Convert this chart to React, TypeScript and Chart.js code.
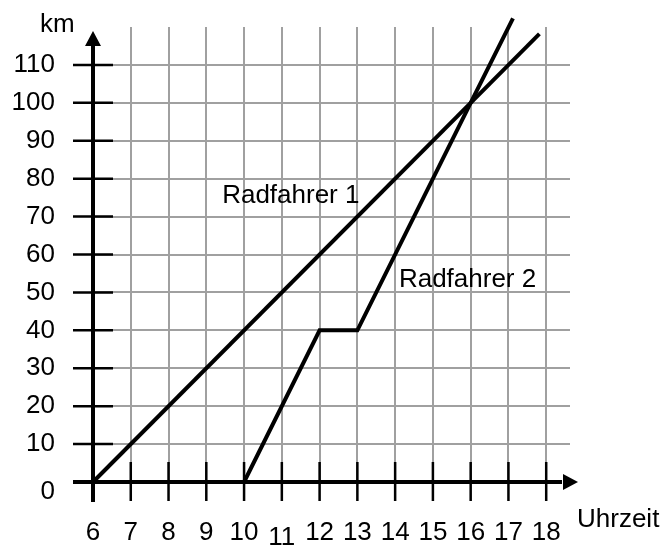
import React, { useEffect, useRef } from "react";
import { Chart, registerables } from "chart.js";

Chart.register(...registerables);

// Data
const xTicks = [6, 7, 8, 9, 10, 11, 12, 13, 14, 15, 16, 17, 18];
const yTicks = [0, 10, 20, 30, 40, 50, 60, 70, 80, 90, 100, 110];
const radfahrer1X = [6, 17.82];
const radfahrer1Y = [0, 118.2];
const radfahrer2X = [10, 12, 13, 16, 17.12];
const radfahrer2Y = [0, 40, 40, 100, 122.3];
const yTitle = "km";
const xTitle = "Uhrzeit";
const seriesNames = ["Radfahrer 1", "Radfahrer 2"];
const seriesLabelAt = [
  { x: 9.42, y: 73.5 },
  { x: 14.1, y: 51.5 },
];

const FONT = '26px "Liberation Sans", Arial, sans-serif';

const axesPlugin = {
  id: "customAxes",
  beforeDatasetsDraw(chart: any) {
    const { ctx, chartArea, scales } = chart;
    const xs = scales.x;
    const ys = scales.y;
    const x0 = xs.getPixelForValue(xTicks[0]);
    const y0 = ys.getPixelForValue(0);
    ctx.save();
    ctx.strokeStyle = "#a0a0a0";
    ctx.lineWidth = 2;
    ctx.beginPath();
    xTicks.slice(1).forEach((v) => {
      const px = Math.round(xs.getPixelForValue(v));
      ctx.moveTo(px, chartArea.top);
      ctx.lineTo(px, y0);
    });
    yTicks.slice(1).forEach((v) => {
      const py = Math.round(ys.getPixelForValue(v));
      ctx.moveTo(x0, py);
      ctx.lineTo(chartArea.right, py);
    });
    ctx.stroke();
    ctx.restore();
  },
  afterDatasetsDraw(chart: any) {
    const { ctx, chartArea, scales } = chart;
    const xs = scales.x;
    const ys = scales.y;
    const x0 = xs.getPixelForValue(xTicks[0]);
    const y0 = ys.getPixelForValue(0);
    ctx.save();
    ctx.strokeStyle = "#000";
    ctx.fillStyle = "#000";
    // tick marks
    ctx.lineWidth = 2.5;
    ctx.beginPath();
    yTicks.slice(1).forEach((v) => {
      const py = ys.getPixelForValue(v);
      ctx.moveTo(x0 - 20, py);
      ctx.lineTo(x0 + 20, py);
    });
    xTicks.slice(1).forEach((v) => {
      const px = xs.getPixelForValue(v);
      ctx.moveTo(px, y0 - 20);
      ctx.lineTo(px, y0 + 19);
    });
    ctx.stroke();
    // axes
    ctx.lineWidth = 4;
    ctx.beginPath();
    ctx.moveTo(x0, y0 + 20);
    ctx.lineTo(x0, 44);
    ctx.moveTo(x0 - 20, y0);
    ctx.lineTo(chartArea.right - 8, y0);
    ctx.stroke();
    // arrows
    ctx.beginPath();
    ctx.moveTo(x0, 31);
    ctx.lineTo(x0 - 8, 46);
    ctx.lineTo(x0 + 8, 46);
    ctx.closePath();
    ctx.fill();
    const ax = chartArea.right + 8;
    ctx.beginPath();
    ctx.moveTo(ax, y0);
    ctx.lineTo(ax - 15, y0 - 8);
    ctx.lineTo(ax - 15, y0 + 8);
    ctx.closePath();
    ctx.fill();
    // labels
    ctx.font = FONT;
    ctx.textAlign = "right";
    ctx.textBaseline = "middle";
    yTicks.forEach((v) => {
      const py = ys.getPixelForValue(v) + (v === 0 ? 10 : 0);
      ctx.fillText(String(v), x0 - 38, py);
    });
    ctx.textAlign = "center";
    xTicks.forEach((v) => {
      const px = xs.getPixelForValue(v);
      const off = v === 11 ? 56 : 51;
      ctx.fillText(String(v), px, y0 + off);
    });
    ctx.textBaseline = "alphabetic";
    ctx.textAlign = "left";
    ctx.fillText(yTitle, 40, 32);
    ctx.fillText(xTitle, 577, 527);
    seriesNames.forEach((name, i) => {
      const p = seriesLabelAt[i];
      ctx.fillText(name, xs.getPixelForValue(p.x), ys.getPixelForValue(p.y));
    });
    ctx.restore();
  },
};

export default function App() {
  const ref = useRef<HTMLCanvasElement>(null);
  useEffect(() => {
    if (!ref.current) return;
    const mk = (xv: number[], yv: number[]) => xv.map((x, i) => ({ x, y: yv[i] }));
    const chart = new Chart(ref.current, {
      type: "line",
      data: {
        datasets: [
          {
            label: seriesNames[0],
            data: mk(radfahrer1X, radfahrer1Y),
            borderColor: "#000",
            borderWidth: 4,
            pointRadius: 0,
            tension: 0,
            clip: false as any,
            borderCapStyle: "butt",
            borderJoinStyle: "miter",
          },
          {
            label: seriesNames[1],
            data: mk(radfahrer2X, radfahrer2Y),
            borderColor: "#000",
            borderWidth: 4,
            pointRadius: 0,
            tension: 0,
            clip: false as any,
            borderCapStyle: "butt",
            borderJoinStyle: "miter",
          },
        ],
      },
      options: {
        responsive: false,
        animation: false,
        layout: { padding: { left: 93, right: 95, top: 27, bottom: 63 } },
        scales: {
          x: { type: "linear", min: 6, max: 18.63, display: false },
          y: { type: "linear", min: 0, max: 120, display: false },
        },
        plugins: { legend: { display: false }, tooltip: { enabled: false } },
      },
      plugins: [axesPlugin],
    });
    return () => chart.destroy();
  }, []);
  return (
    <div style={{ position: "fixed", left: 0, top: 0, width: 665, height: 545, background: "#fff" }}>
      <canvas ref={ref} width={665} height={545} />
    </div>
  );
}
